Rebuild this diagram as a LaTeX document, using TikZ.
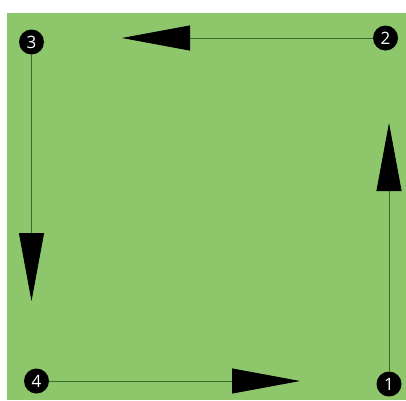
\documentclass[tikz,border=0pt]{standalone}
\usepackage{fontspec}
\setsansfont{Open Sans}
\usetikzlibrary{arrows.meta}
\definecolor{bggreen}{HTML}{8DC66B}
\definecolor{linegreen}{HTML}{356B26}
\tikzset{
  num/.style={circle, fill=black, draw=none, minimum size=25pt, inner sep=0pt,
    text=white, font=\sffamily\fontsize{17}{17}\selectfont},
  flow/.style={draw=linegreen, line width=0.8pt,
    -{Triangle[length=68pt, width=25pt, color=black]}},
}
\begin{document}
\begin{tikzpicture}[x=1pt, y=-1pt]
\useasboundingbox (0,0) rectangle (406,400);
\fill[white] (0,0) rectangle (406,400);
\fill[bggreen] (7,13) rectangle (406,400);
\node[num] (c1) at (389,384) {1};
\node[num] (c2) at (385.5,38) {2};
\node[num] (c3) at (31.5,42) {3};
\node[num] (c4) at (36.5,381) {4};
\coordinate (t12) at (389,123);
\coordinate (t23) at (122,38);
\coordinate (t34) at (31.5,301);
\coordinate (t41) at (300,381);
\draw[flow] (c1) -- (t12);
\draw[flow] (c2) -- (t23);
\draw[flow] (c3) -- (t34);
\draw[flow] (c4) -- (t41);
\end{tikzpicture}
\end{document}
